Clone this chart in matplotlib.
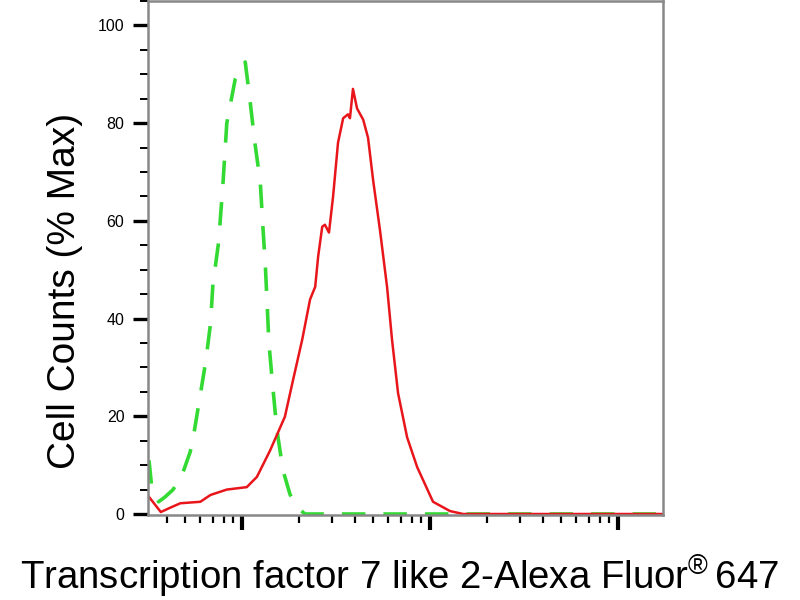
import matplotlib
matplotlib.use("Agg")
import matplotlib.pyplot as plt
from matplotlib.ticker import LogLocator, NullFormatter, MultipleLocator

# isotype control (green, dashed)
ctrl_x = [32, 33, 36, 39, 43, 48, 53, 55, 59, 64, 68, 70, 75, 79, 83, 92, 104,
          110, 117, 125, 129, 133, 136, 139, 145, 152, 155, 165, 180, 199, 216, 17340]
ctrl_y = [11, 6, 2.5, 3.5, 5, 8, 12.7, 15.6, 22.7, 31, 39, 47, 55.5, 67, 80, 89, 92.5,
          85, 76, 68, 59, 51, 43, 35, 27, 18.6, 16, 9, 4, 1.2, 0, 0]

# TCF7L2 stained sample (red, solid)
stain_x = [32, 37, 41, 47, 60, 68, 83, 106, 120, 141, 169, 187, 209, 230, 245, 254,
           267, 276, 290, 305, 324, 345, 366, 375, 389, 409, 441, 468, 498, 542, 591,
           628, 676, 755, 854, 1037, 1277, 1499, 17340]
stain_y = [3.5, 0.4, 1.2, 2.2, 2.5, 3.9, 5.0, 5.5, 7.6, 13, 19.9, 27.5, 35.7, 43.9, 46.5,
           52.7, 58.8, 59.2, 57.6, 65, 76, 81, 81.8, 81, 87, 83, 80.7, 77, 68.3, 58, 46.4,
           35.6, 24.7, 15.7, 9.6, 2.5, 0.6, 0, 0]

plt.rcParams['font.family'] = ['Liberation Sans', 'DejaVu Sans']
plt.rcParams['mathtext.fontset'] = 'custom'
plt.rcParams['mathtext.rm'] = 'Liberation Sans'

fig = plt.figure(figsize=(8, 6), dpi=100, facecolor='white')
ax = fig.add_axes([0.185, 0.1417, 0.6438, 0.8567])

ax.plot(ctrl_x, ctrl_y, color='#33DA33', lw=2.6, linestyle=(0, (6.5, 5)))
ax.plot(stain_x, stain_y, color='#E8161B', lw=1.8)

ax.set_xscale('log')
ax.set_xlim(31.62, 17340)
ax.set_ylim(-0.2, 105)

ax.xaxis.set_major_locator(LogLocator(base=10))
ax.xaxis.set_minor_locator(LogLocator(base=10, subs=range(2, 10)))
ax.xaxis.set_major_formatter(NullFormatter())
ax.xaxis.set_minor_formatter(NullFormatter())
ax.yaxis.set_major_locator(MultipleLocator(20))
ax.yaxis.set_minor_locator(MultipleLocator(5))

ax.tick_params(axis='x', which='major', direction='out', length=11, width=3, color='black')
ax.tick_params(axis='x', which='minor', direction='out', length=6, width=1.6, color='black')
ax.tick_params(axis='y', which='major', direction='out', length=11, width=2.4, color='black',
               labelsize=11.5, pad=6)
ax.tick_params(axis='y', which='minor', direction='out', length=6, width=1.4, color='black')

for s in ax.spines.values():
    s.set_color('#888888')
    s.set_linewidth(1.8)

# axis titles placed in figure coords to match the reference layout
fig.text(0.0815, 0.515, 'Cell Counts (% Max)', fontsize=28, rotation=90,
         ha='center', va='center')
fig.text(0.5, 0.017, r'Transcription factor 7 like 2-Alexa Fluor$^{\circledR}\,$647',
         fontsize=27.6, ha='center', va='baseline')

plt.savefig('out.png', dpi=100, facecolor='white')
plt.close()
